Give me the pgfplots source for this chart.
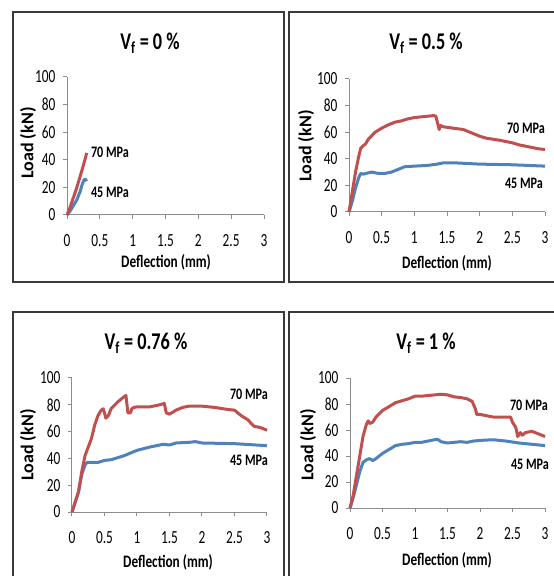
\documentclass[border=0pt]{standalone}
\usepackage{fontspec}
\setmainfont{Carlito}[FakeStretch=0.76]
\newfontfamily\tickfont{Carlito}[FakeStretch=0.72]
\newfontfamily\ylfont{Carlito}
\usepackage{pgfplots}
\pgfplotsset{compat=1.18}
\definecolor{ered}{HTML}{C0504D}
\definecolor{eblue}{HTML}{4F81BD}
\definecolor{agray}{HTML}{8C8C8C}
\definecolor{frame}{HTML}{3A3A3A}
\pgfplotsset{
  panel/.style={scale only axis, anchor=south west,
    xmin=0,xmax=3,ymin=0,ymax=100,
    xtick={0,0.5,1,1.5,2,2.5,3}, xticklabels={0,0.5,1,1.5,2,2.5,3},
    ytick={0,20,40,60,80,100},
    axis x line*=bottom, axis y line*=left,
    tick align=outside, major tick length=4pt,
    axis line style={agray,line width=1pt},
    every tick/.style={agray,line width=1pt},
    tick label style={font=\tickfont\fontsize{18.5}{18.5}\selectfont, text=black},
    /pgf/number format/assume math mode=true,
    xticklabel style={yshift=-12pt}, yticklabel style={xshift=-4pt},
    clip=false},
  r/.style={ered, line width=3pt, line join=round, no marks},
  b/.style={eblue, line width=3pt, line join=round, no marks}
}
\begin{document}
\begin{tikzpicture}
\path[use as bounding box] (0pt,0pt) rectangle (554pt,576pt);
\begin{scope}
\clip (0pt,0pt) rectangle (554pt,576pt);
% frames
\draw[frame, line width=2pt] (13pt,564pt) rectangle (284pt,294pt);
\draw[frame, line width=2pt] (289pt,564pt) rectangle (570pt,294pt);
\draw[frame, line width=2pt] (13pt,264pt) rectangle (284pt,-20pt);
\draw[frame, line width=2pt] (289pt,264pt) rectangle (570pt,-20pt);

% Panel 1: Vf = 0 %
\begin{axis}[panel, at={(67pt,361pt)}, width=197pt, height=138pt]
\addplot[b] coordinates {(0,0) (0.05,3) (0.1,7) (0.15,11) (0.2,17) (0.23,22) (0.26,25.5) (0.28,26) (0.3,24.5)};
\addplot[r] coordinates {(0,0) (0.05,6) (0.1,13) (0.15,20) (0.2,28) (0.25,36) (0.3,45)};
\end{axis}

% Panel 2: Vf = 0.5 %
\begin{axis}[panel, at={(349pt,364pt)}, width=196pt, height=133pt]
\addplot[b] coordinates {(0,0) (0.05,8) (0.1,18) (0.15,26) (0.18,29) (0.22,28.5) (0.3,29.5) (0.35,30) (0.45,29) (0.55,29) (0.65,30) (0.75,32) (0.85,34) (1.0,34.5) (1.2,35) (1.35,36) (1.45,37) (1.6,37) (1.8,36.5) (2.0,36) (2.5,35.5) (3.0,34.5)};
\addplot[r] coordinates {(0,0) (0.05,15) (0.1,30) (0.15,42) (0.18,48) (0.22,50) (0.25,51) (0.3,55) (0.4,60) (0.5,63) (0.6,65.5) (0.7,67.5) (0.8,68.5) (0.9,70) (1.0,71) (1.1,71.5) (1.2,72) (1.3,72.5) (1.33,72) (1.36,66) (1.38,62) (1.40,65) (1.45,64) (1.6,63) (1.75,62) (1.85,60) (1.95,58) (2.0,57) (2.1,55.5) (2.3,54) (2.5,52) (2.6,50.5) (2.7,49.5) (2.8,48.5) (2.9,47.5) (3.0,47)};
\end{axis}

% Panel 3: Vf = 0.76 %
\begin{axis}[panel, at={(72pt,64pt)}, width=195pt, height=134pt]
\addplot[b] coordinates {(0,0) (0.1,15) (0.15,28) (0.2,35) (0.23,37) (0.3,37) (0.4,37) (0.5,38.5) (0.6,39) (0.8,42) (0.9,44) (1.0,46) (1.2,48.5) (1.4,50.5) (1.5,50) (1.6,51.5) (1.8,52) (1.9,52.5) (2.0,51.5) (2.5,51) (3.0,49.5)};
\addplot[r] coordinates {(0,0) (0.1,15) (0.15,30) (0.2,42) (0.3,55) (0.35,65) (0.4,72) (0.45,76) (0.48,77) (0.5,74) (0.52,70) (0.56,72) (0.6,77) (0.7,82) (0.8,86) (0.83,87) (0.86,74) (0.9,74) (0.92,77) (0.95,78) (1.0,78.5) (1.2,78.5) (1.35,80) (1.42,81) (1.45,74) (1.5,73) (1.6,76) (1.7,78) (1.8,79) (2.0,79) (2.2,78) (2.4,76.5) (2.5,76) (2.6,72) (2.7,69) (2.8,64) (2.9,63) (3.0,61)};
\end{axis}

% Panel 4: Vf = 1 %
\begin{axis}[panel, at={(350pt,68pt)}, width=195pt, height=130pt]
\addplot[b] coordinates {(0,0) (0.05,8) (0.1,18) (0.15,28) (0.2,35) (0.25,37) (0.3,38) (0.35,36.5) (0.4,38) (0.5,42) (0.6,45) (0.7,48) (0.8,49) (0.9,49.5) (1.0,50.5) (1.1,50.5) (1.2,51.5) (1.3,52.5) (1.35,52.8) (1.4,51) (1.5,50) (1.6,50.5) (1.7,51) (1.8,50.5) (1.9,51.5) (2.0,52) (2.2,52.5) (2.4,51.5) (2.6,50) (2.8,49) (3.0,48)};
\addplot[r] coordinates {(0,0) (0.05,10) (0.1,25) (0.15,40) (0.2,55) (0.25,64) (0.28,67) (0.3,65) (0.35,66) (0.4,70) (0.5,75) (0.6,78) (0.7,81) (0.8,82.5) (0.9,84) (1.0,86) (1.1,86) (1.2,86.5) (1.3,87) (1.4,87.5) (1.5,87) (1.6,85.5) (1.7,85) (1.8,84) (1.88,82) (1.93,76) (1.95,72) (2.0,72) (2.1,71) (2.2,70) (2.4,70) (2.47,70) (2.5,66) (2.55,62) (2.58,55) (2.62,58) (2.65,56) (2.7,58) (2.8,59) (2.9,57) (3.0,55)};
\end{axis}

% titles
\tikzset{ttl/.style={font=\fontsize{24}{24}\selectfont\bfseries},
  xl/.style={font=\fontsize{17.5}{17.5}\selectfont\bfseries},
  yl/.style={font=\ylfont\fontsize{18}{18}\selectfont\bfseries, rotate=90},
  mp/.style={font=\fontsize{16}{16}\selectfont\bfseries}}
\node[ttl] at (150pt,533pt) {V\textsubscript{f} = 0 \%};
\node[ttl] at (426pt,533pt) {V\textsubscript{f} = 0.5 \%};
\node[ttl] at (146pt,233pt) {V\textsubscript{f} = 0.76 \%};
\node[ttl] at (426pt,233pt) {V\textsubscript{f} = 1 \%};
% x labels
\node[xl] at (166pt,314pt) {Deflection (mm)};
\node[xl] at (447pt,313pt) {Deflection (mm)};
\node[xl] at (168pt,14pt) {Deflection (mm)};
\node[xl] at (447pt,16pt) {Deflection (mm)};
% y labels
\node[yl] at (28pt,433pt) {Load (kN)};
\node[yl] at (306pt,430pt) {Load (kN)};
\node[yl] at (28pt,131pt) {Load (kN)};
\node[yl] at (308pt,131pt) {Load (kN)};
% series labels
\node[mp] at (110pt,424pt) {70 MPa};
\node[mp] at (110pt,384pt) {45 MPa};
\node[mp] at (526pt,448pt) {70 MPa};
\node[mp] at (524pt,393pt) {45 MPa};
\node[mp] at (249pt,182pt) {70 MPa};
\node[mp] at (249pt,116pt) {45 MPa};
\node[mp] at (529pt,171pt) {70 MPa};
\node[mp] at (530pt,112pt) {45 MPa};
\end{scope}
\end{tikzpicture}
\end{document}
